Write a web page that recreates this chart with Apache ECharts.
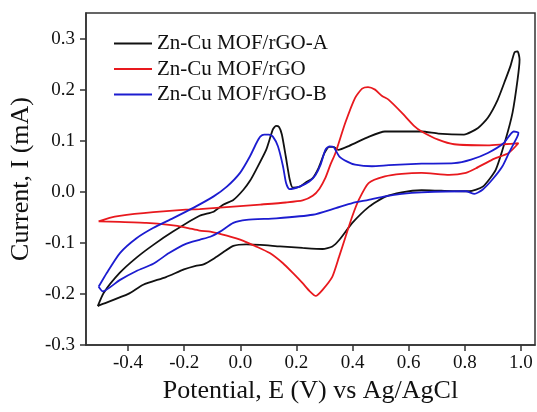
<!DOCTYPE html>
<html>
<head>
<meta charset="utf-8">
<script src="https://cdn.jsdelivr.net/npm/echarts@6/dist/echarts.min.js"></script>
<style>
html, body { margin: 0; padding: 0; background: #fff; }
#main { width: 537px; height: 412px; }
</style>
</head>
<body>
<div id="main"></div>
<script>
var chartDom = document.getElementById('main');
var myChart = echarts.init(chartDom);
var option;

var seriesNames = ['Zn-Cu MOF/rGO-A', 'Zn-Cu MOF/rGO', 'Zn-Cu MOF/rGO-B'];
var xTicks = [-0.4, -0.2, 0.0, 0.2, 0.4, 0.6, 0.8, 1.0];
var yTicks = [-0.3, -0.2, -0.1, 0.0, 0.1, 0.2, 0.3];

// [potential V, current mA], one closed loop each
var loopA = [
    [-0.508, -0.224], [-0.487, -0.198], [-0.430, -0.159], [-0.370, -0.129], [-0.310, -0.104],
    [-0.240, -0.078], [-0.145, -0.047], [-0.095, -0.039], [-0.060, -0.025], [-0.025, -0.016],
    [0.011, 0.004], [0.035, 0.022], [0.056, 0.043], [0.092, 0.082], [0.116, 0.122],
    [0.127, 0.129], [0.138, 0.127], [0.148, 0.112], [0.162, 0.069], [0.176, 0.024],
    [0.187, 0.008], [0.212, 0.010], [0.233, 0.018], [0.258, 0.027], [0.279, 0.047],
    [0.300, 0.076], [0.317, 0.088], [0.332, 0.088], [0.349, 0.082], [0.388, 0.090],
    [0.459, 0.108], [0.515, 0.118], [0.575, 0.118], [0.646, 0.118], [0.705, 0.114],
    [0.797, 0.112], [0.847, 0.125], [0.882, 0.145], [0.917, 0.180], [0.945, 0.220],
    [0.963, 0.247], [0.977, 0.273], [0.988, 0.275], [0.995, 0.259], [0.988, 0.220],
    [0.970, 0.155], [0.945, 0.102], [0.910, 0.043], [0.864, 0.010], [0.815, 0.001],
    [0.716, 0.002], [0.646, 0.003], [0.575, -0.001], [0.515, -0.010], [0.459, -0.029],
    [0.399, -0.061], [0.353, -0.094], [0.328, -0.107], [0.293, -0.112], [0.222, -0.110],
    [0.141, -0.107], [0.071, -0.104], [0.021, -0.103], [-0.025, -0.106], [-0.060, -0.118],
    [-0.095, -0.131], [-0.131, -0.142], [-0.159, -0.145], [-0.201, -0.152], [-0.265, -0.167],
    [-0.346, -0.182], [-0.399, -0.200], [-0.501, -0.222], [-0.508, -0.224]
];

var loopRGO = [
    [-0.505, -0.058], [-0.466, -0.051], [-0.430, -0.047], [-0.310, -0.040], [-0.194, -0.035],
    [-0.145, -0.034], [-0.049, -0.030], [0.071, -0.025], [0.162, -0.021], [0.222, -0.017],
    [0.258, -0.008], [0.282, 0.006], [0.303, 0.027], [0.321, 0.053], [0.339, 0.076],
    [0.374, 0.135], [0.409, 0.184], [0.434, 0.202], [0.455, 0.205], [0.480, 0.200],
    [0.504, 0.188], [0.529, 0.180], [0.575, 0.155], [0.621, 0.128], [0.646, 0.118],
    [0.705, 0.102], [0.762, 0.093], [0.882, 0.091], [0.938, 0.093], [0.991, 0.095],
    [0.956, 0.076], [0.898, 0.063], [0.840, 0.046], [0.804, 0.037], [0.744, 0.033],
    [0.646, 0.037], [0.575, 0.035], [0.515, 0.030], [0.457, 0.017], [0.422, -0.016],
    [0.399, -0.048], [0.375, -0.088], [0.352, -0.127], [0.328, -0.166], [0.293, -0.192],
    [0.269, -0.204], [0.246, -0.194], [0.222, -0.179], [0.187, -0.159], [0.152, -0.140],
    [0.105, -0.120], [0.052, -0.106], [0.011, -0.096], [-0.048, -0.086], [-0.107, -0.078],
    [-0.145, -0.076], [-0.194, -0.070], [-0.254, -0.065], [-0.335, -0.061], [-0.430, -0.059],
    [-0.505, -0.058]
];

var loopB = [
    [-0.505, -0.186], [-0.476, -0.159], [-0.429, -0.120], [-0.370, -0.091], [-0.311, -0.071],
    [-0.241, -0.052], [-0.166, -0.031], [-0.095, -0.009], [-0.048, 0.010], [-0.001, 0.037],
    [0.034, 0.069], [0.057, 0.095], [0.071, 0.108], [0.085, 0.112], [0.102, 0.112],
    [0.116, 0.108], [0.134, 0.089], [0.152, 0.050], [0.163, 0.017], [0.175, 0.005],
    [0.211, 0.010], [0.246, 0.020], [0.268, 0.033], [0.286, 0.053], [0.303, 0.082],
    [0.317, 0.089], [0.332, 0.088], [0.353, 0.069], [0.381, 0.059], [0.409, 0.053],
    [0.469, 0.050], [0.529, 0.052], [0.646, 0.055], [0.762, 0.056], [0.822, 0.063],
    [0.882, 0.076], [0.938, 0.095], [0.974, 0.118], [0.991, 0.116], [0.987, 0.108],
    [0.957, 0.076], [0.934, 0.050], [0.898, 0.024], [0.863, 0.004], [0.834, -0.004],
    [0.804, 0.001], [0.646, -0.001], [0.575, -0.004], [0.516, -0.009], [0.457, -0.016],
    [0.399, -0.022], [0.340, -0.032], [0.258, -0.045], [0.128, -0.052], [0.022, -0.055],
    [-0.025, -0.061], [-0.072, -0.078], [-0.107, -0.088], [-0.145, -0.094], [-0.194, -0.102],
    [-0.254, -0.120], [-0.310, -0.141], [-0.370, -0.155], [-0.430, -0.173], [-0.490, -0.195],
    [-0.505, -0.186]
];

var colors = ['#111111', '#e8191e', '#1c1cd0'];
var font = 'Liberation Serif';

option = {
    animation: false,
    color: colors,
    grid: {
        left: 82, right: 2, top: 13, bottom: 67,
        show: true,
        borderColor: '#333',
        borderWidth: 1.5
    },
    legend: {
        orient: 'vertical',
        left: 108,
        top: 28,
        itemWidth: 38,
        itemHeight: 12,
        itemGap: 4.5,
        itemStyle: { opacity: 0 },
        textStyle: { fontFamily: font, fontSize: 21, lineHeight: 21, color: '#111' },
        data: seriesNames
    },
    xAxis: {
        type: 'value',
        min: -0.55,
        max: 1.05,
        name: 'Potential, E (V) vs Ag/AgCl',
        nameLocation: 'middle',
        nameGap: 26,
        nameTextStyle: { fontFamily: font, fontSize: 26, color: '#111' },
        axisLine: { show: true, onZero: false, lineStyle: { color: '#333', width: 1.5 } },
        axisTick: { show: true, length: 6, lineStyle: { color: '#333', width: 1.5 }, customValues: xTicks },
        axisLabel: {
            customValues: xTicks,
            margin: 9,
            fontFamily: font, fontSize: 19, color: '#111',
            formatter: function (v) { return v.toFixed(1); }
        },
        splitLine: { show: false }
    },
    yAxis: {
        type: 'value',
        min: -0.3,
        max: 0.35,
        name: 'Current, I (mA)',
        nameLocation: 'middle',
        nameGap: 44,
        nameTextStyle: { fontFamily: font, fontSize: 26, color: '#111' },
        axisLine: { show: true, onZero: false, lineStyle: { color: '#333', width: 1.5 } },
        axisTick: { show: true, length: 6, lineStyle: { color: '#333', width: 1.5 }, customValues: yTicks },
        axisLabel: {
            customValues: yTicks,
            margin: 11,
            fontFamily: font, fontSize: 19, color: '#111',
            formatter: function (v) { return v.toFixed(1); }
        },
        splitLine: { show: false }
    },
    series: [
        { name: seriesNames[0], type: 'line', data: loopA, symbol: 'none', smooth: 0.2, lineStyle: { width: 1.8 } },
        { name: seriesNames[1], type: 'line', data: loopRGO, symbol: 'none', smooth: 0.2, lineStyle: { width: 1.8 } },
        { name: seriesNames[2], type: 'line', data: loopB, symbol: 'none', smooth: 0.2, lineStyle: { width: 1.8 } }
    ]
};

option && myChart.setOption(option);
</script>
</body>
</html>
